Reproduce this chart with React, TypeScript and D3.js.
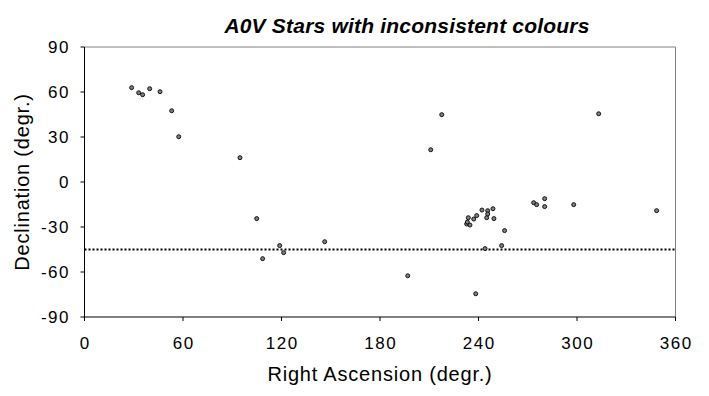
import React from "react";
import * as d3 from "d3";

const rightAscension = [28.7, 33.0, 35.4, 39.7, 46.0, 53.1, 57.4, 94.7, 104.9, 108.5, 118.9, 121.3, 146.3, 196.9, 210.9, 217.6, 232.8, 233.2, 233.8, 234.8, 237.1, 238.3, 238.9, 242.1, 244.0, 245.0, 245.6, 245.6, 248.8, 249.4, 254.1, 255.9, 273.6, 275.4, 280.3, 280.3, 298.0, 313.2, 348.5];
const declination = [62.9, 59.5, 58.2, 62.2, 60.2, 47.5, 30.2, 16.2, -24.4, -51.1, -42.4, -47.1, -39.8, -62.5, 21.5, 44.9, -28.0, -26.7, -23.8, -28.7, -24.7, -74.5, -22.4, -18.7, -44.4, -23.8, -19.1, -21.3, -17.8, -24.4, -42.4, -32.4, -13.8, -15.1, -11.1, -16.4, -15.1, 45.5, -19.1];
const xTicks = [0, 60, 120, 180, 240, 300, 360];
const yTicks = [-90, -60, -30, 0, 30, 60, 90];
const limitDec = -45;

const W = 709, H = 396;
const L = 84.5, R = 675.5, T = 47, B = 317;

export default function App() {
  const x = d3.scaleLinear().domain([0, 360]).range([L, R]);
  const y = d3.scaleLinear().domain([-90, 90]).range([B, T]);
  const font = "'Liberation Sans', Arial, sans-serif";
  return (
    <svg width={W} height={H} style={{ position: "absolute", left: 0, top: 0, background: "#fff" }} fontFamily={font}>
      <rect x={0} y={0} width={W} height={H} fill="#fff" />
      <text x={407} y={33} textAnchor="middle" fontSize={21} fontWeight="bold" fontStyle="italic" letterSpacing={0.2}>A0V Stars with inconsistent colours</text>
      <line x1={L} x2={R} y1={T} y2={T} stroke="#808080" strokeWidth={1} />
      <line x1={R} x2={R} y1={T} y2={B} stroke="#808080" strokeWidth={1} />
      <line x1={L} x2={L} y1={T} y2={B} stroke="#000" strokeWidth={1} />
      <line x1={L} x2={R} y1={B} y2={B} stroke="#000" strokeWidth={1} />
      {yTicks.map(t => (
        <g key={"y" + t}>
          <line x1={L - 4} x2={L} y1={y(t)} y2={y(t)} stroke="#000" />
          <text x={70} y={y(t) + 6} textAnchor="end" fontSize={17} letterSpacing={1.5}>{t}</text>
        </g>
      ))}
      {xTicks.map(t => (
        <g key={"x" + t}>
          <line x1={x(t)} x2={x(t)} y1={B} y2={B + 4} stroke="#000" />
          <text x={x(t) + 0.75} y={B + 32} textAnchor="middle" fontSize={17} letterSpacing={1.5}>{t}</text>
        </g>
      ))}
      <line x1={L} x2={R} y1={y(limitDec)} y2={y(limitDec)} stroke="#000" strokeWidth={2} strokeDasharray="2 2" />
      {rightAscension.map((ra, i) => (
        <circle key={i} cx={x(ra)} cy={y(declination[i])} r={2} fill="#808080" stroke="#000" strokeWidth={0.9} />
      ))}
      <text x={380} y={381} textAnchor="middle" fontSize={20} letterSpacing={0.8}>Right Ascension (degr.)</text>
      <text transform={`translate(29, ${(T + B) / 2}) rotate(-90)`} textAnchor="middle" fontSize={20} letterSpacing={0.8}>Declination (degr.)</text>
    </svg>
  );
}
